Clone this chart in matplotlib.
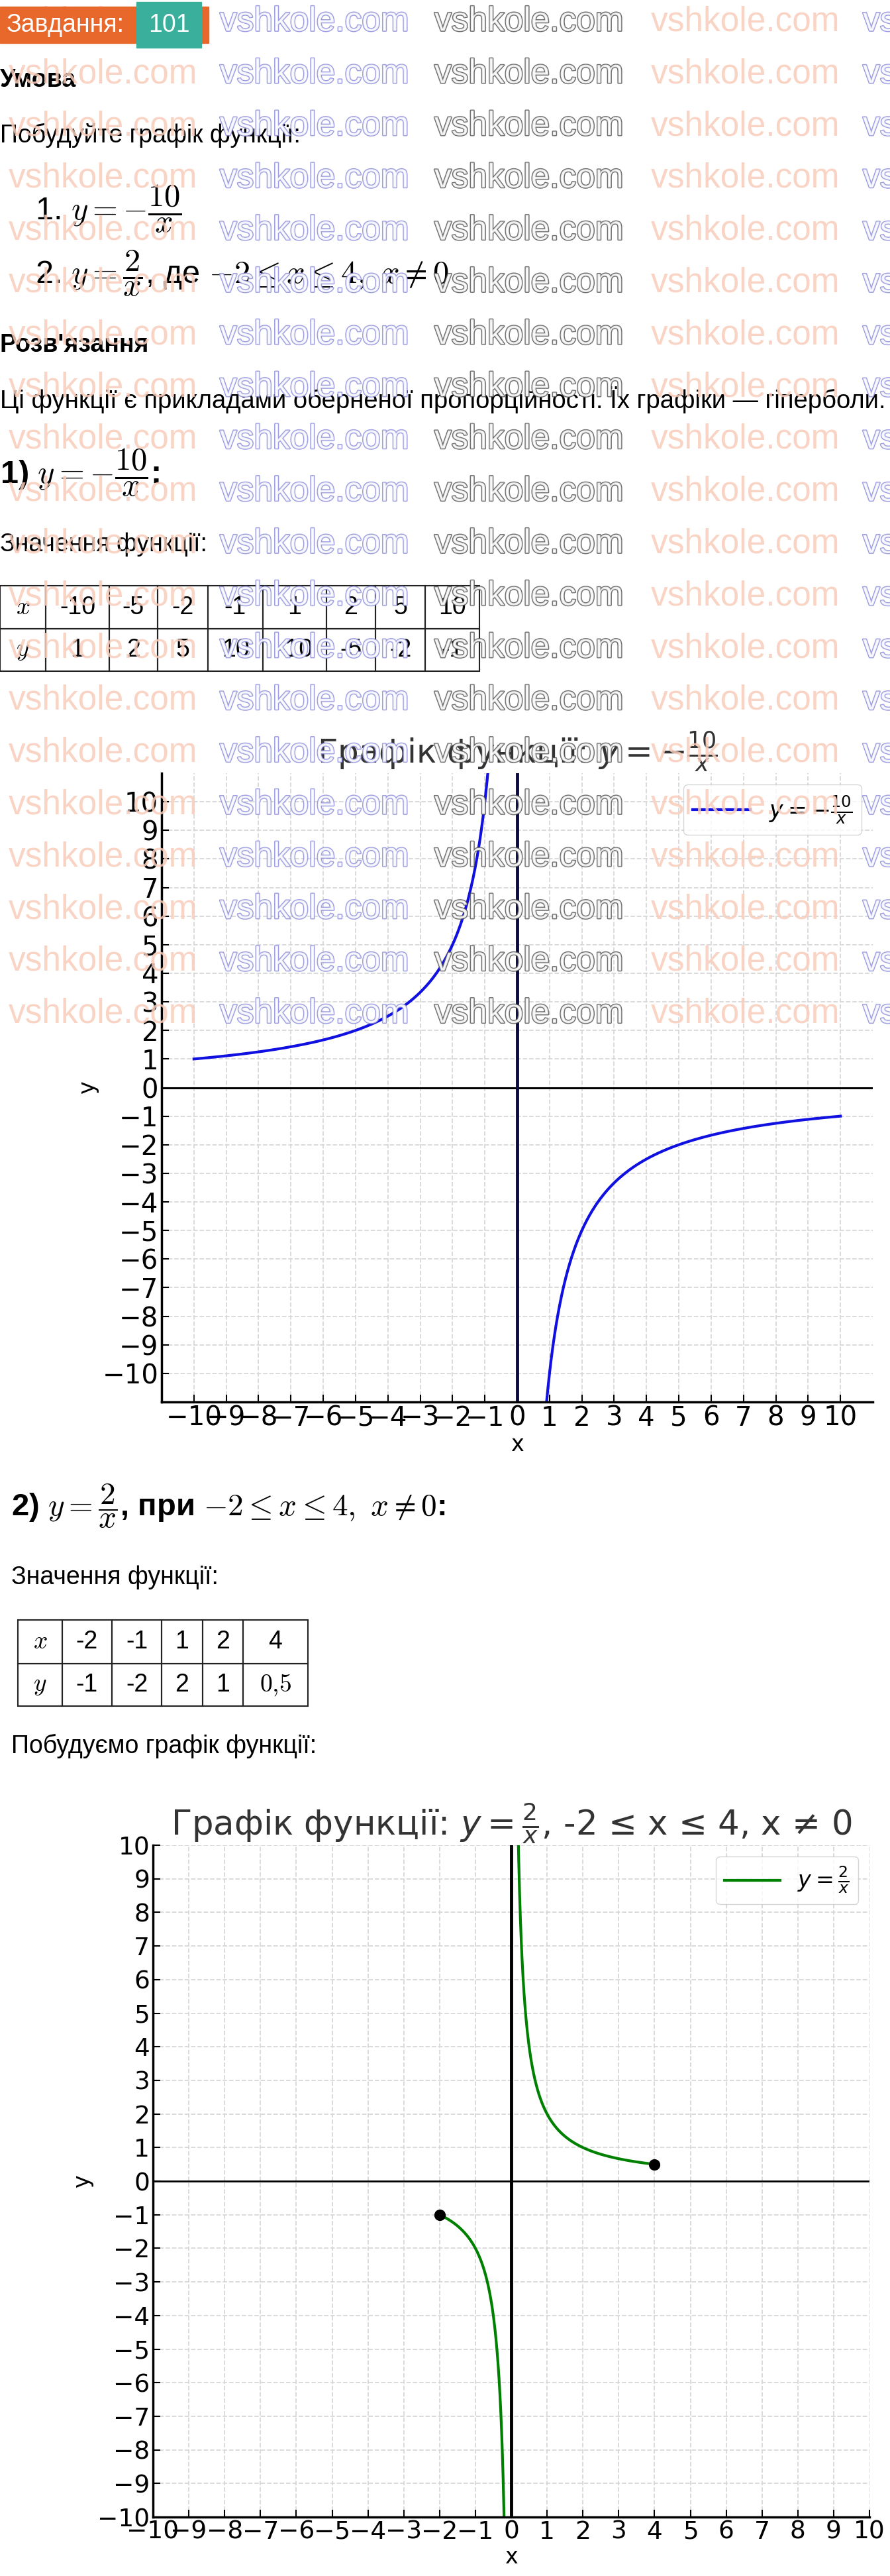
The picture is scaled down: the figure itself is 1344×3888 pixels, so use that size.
import numpy as np
import matplotlib.pyplot as plt
import matplotlib.patheffects as pe
from matplotlib.patches import Rectangle

plt.rcParams['mathtext.fontset'] = 'cm'
plt.rcParams['font.family'] = ['Liberation Sans', 'DejaVu Sans']

W, H = 1344, 3888

# дані таблиць
t1_x = ['-10', '-5', '-2', '-1', '1', '2', '5', '10']
t1_y = ['1', '2', '5', '10', '-10', '-5', '-2', '-1']
t2_x = ['-2', '-1', '1', '2', '4']
t2_y = ['-1', '-2', '2', '1', '$0{,}5$']
ticks = list(range(-10, 11))
k1, k2 = -10, 2
ends2_x = [-2, 4]
ends2_y = [-1, 0.5]

fig = plt.figure(figsize=(W / 100, H / 100), dpi=100)


def px(x, y):
    return x / W, 1 - y / H


def txt(x, y, s, **kw):
    kw.setdefault('va', 'center')
    kw.setdefault('fontsize', 27)
    fig.text(*px(x, y), s, **kw)


def table(cols, rows, xs, ys, fs):
    ax = fig.add_axes([0, 0, 1, 1], zorder=3)
    ax.set_xlim(0, W)
    ax.set_ylim(H, 0)
    ax.axis('off')
    for r, row in enumerate([['$x$'] + xs, ['$y$'] + ys]):
        for c, v in enumerate(row):
            ax.add_patch(Rectangle((cols[c], rows[r]), cols[c + 1] - cols[c], rows[r + 1] - rows[r],
                                   fill=False, ec='#222222', lw=1.5))
            ax.text((cols[c] + cols[c + 1]) / 2, (rows[r] + rows[r + 1]) / 2, v,
                    ha='center', va='center', fontsize=fs)


# шапка
hdr = fig.add_axes([0, 0, 1, 1], zorder=20)
hdr.set_xlim(0, W)
hdr.set_ylim(H, 0)
hdr.axis('off')
hdr.add_patch(Rectangle((0, 10), 315, 55, color='#e8672a'))
hdr.add_patch(Rectangle((206, 3), 98, 69, color='#3aaf9c'))
hdr.text(10, 38, 'Завдання:', color='white', fontsize=27, va='center')
hdr.text(255, 38, '101', color='white', fontsize=27, va='center', ha='center')

txt(0, 121, 'Умова', fontweight='bold')
txt(0, 204, 'Побудуйте графік функції:')
txt(53, 315, r'1. $y=-\dfrac{10}{x}$', fontsize=35)
txt(53, 412, r'2. $y=\dfrac{2}{x}$, де $-2\leq x\leq 4,\ x\neq 0$', fontsize=35)
txt(0, 521, "Розв'язання", fontweight='bold')
txt(0, 603, 'Ці функції є прикладами оберненої пропорційності. Їх графіки — гіперболи.', fontsize=27.5)
txt(0, 713, r'1) $y=-\dfrac{10}{x}$:', fontweight='bold', fontsize=35)
txt(0, 822, 'Значення функції:')
table([0, 69, 165, 238, 314, 397, 493, 567, 642, 724], [884, 949, 1013], t1_x, t1_y, 27)

txt(17, 2273, r'2) $y=\dfrac{2}{x}$, при $-2\leq x\leq 4,\ x\neq 0$:', fontweight='bold', fontsize=34)
txt(17, 2381, 'Значення функції:', fontsize=27)
table([27, 94, 169, 244, 306, 367, 465], [2445, 2511, 2575], t2_x, t2_y, 27)
txt(17, 2635, 'Побудуємо графік функції:', fontsize=27)


def style(ax, fs):
    ax.set_xticks(ticks)
    ax.set_yticks(ticks)
    ax.tick_params(labelsize=fs, direction='in', length=8, width=1.5)
    ax.grid(True, ls='--', color='#d8d8d8', lw=1.3)
    for s in ['top', 'right']:
        ax.spines[s].set_visible(False)
    for s in ['left', 'bottom']:
        ax.spines[s].set_linewidth(2.5)
    for t in ax.get_xticklabels() + ax.get_yticklabels():
        t.set_family('DejaVu Sans')


dv = dict(family='DejaVu Sans', math_fontfamily='dejavusans')

# графік 1
ax1 = fig.add_axes([244 / W, 1 - 2116 / H, (1318 - 244) / W, (2116 - 1167) / H])
xa = np.linspace(-10, -0.5, 600)
xb = np.linspace(0.5, 10, 600)
ax1.plot(np.r_[xa, np.nan, xb], k1 / np.r_[xa, np.nan, xb], color='#1010e0', lw=3, label=r'$y = -\frac{10}{x}$')
ax1.axhline(0, color='black', lw=2.2)
ax1.axvline(0, color='#0a0a40', lw=3.5)
ax1.set_xlim(-11, 11)
ax1.set_ylim(-11, 11)
style(ax1, 29)
ax1.set_title(r'Графік функції: $y = -\frac{10}{x}$', fontsize=36, color='#333333', pad=8, **dv)
ax1.set_xlabel('x', fontsize=24, family='DejaVu Sans', labelpad=2)
ax1.set_ylabel('y', fontsize=24, family='DejaVu Sans')
leg = ax1.legend(loc='upper right', handlelength=2.5, prop=dict(family='DejaVu Sans', size=25))
for t in leg.get_texts():
    t.set_math_fontfamily('dejavusans')

# графік 2
ax2 = fig.add_axes([231 / W, 1 - 3799 / H, (1313 - 231) / W, (3799 - 2785) / H])
xc = np.linspace(-2, -0.1, 500)
xd = np.linspace(0.1, 4, 500)
ax2.plot(np.r_[xc, np.nan, xd], k2 / np.r_[xc, np.nan, xd], color='green', lw=3, label=r'$y = \frac{2}{x}$')
ax2.scatter(ends2_x, ends2_y, color='black', s=130, zorder=5)
ax2.axhline(0, color='black', lw=2)
ax2.axvline(0, color='black', lw=3.5)
ax2.set_xlim(-10, 10)
ax2.set_ylim(-10, 10)
style(ax2, 27)
ax2.set_title(r'Графік функції: $y = \frac{2}{x}$, -2 ≤ x ≤ 4, x ≠ 0', fontsize=37, color='#333333', pad=4, **dv)
ax2.set_xlabel('x', fontsize=24, family='DejaVu Sans', labelpad=2)
ax2.set_ylabel('y', fontsize=24, family='DejaVu Sans')
leg = ax2.legend(loc='upper right', handlelength=2.5, prop=dict(family='DejaVu Sans', size=24))
for t in leg.get_texts():
    t.set_math_fontfamily('dejavusans')

# водяні знаки
cols = [13, 332, 656, 983, 1303]
styles = [dict(color='#f9cdbb'),
          dict(color='white', path_effects=[pe.withStroke(linewidth=2, foreground='#8c8cdc')]),
          dict(color='white', path_effects=[pe.withStroke(linewidth=2, foreground='#555555')]),
          dict(color='#f9cdbb'),
          dict(color='white', path_effects=[pe.withStroke(linewidth=2, foreground='#8c8cdc')])]
for r in range(20):
    y = 33 + r * 78.8
    for cx, st in zip(cols, styles):
        fig.text(*px(cx, y), 'vshkole.com', fontsize=37, va='center', zorder=10,
                 fontstretch='condensed', alpha=0.85, **st)

fig.savefig('out.png', dpi=100)
